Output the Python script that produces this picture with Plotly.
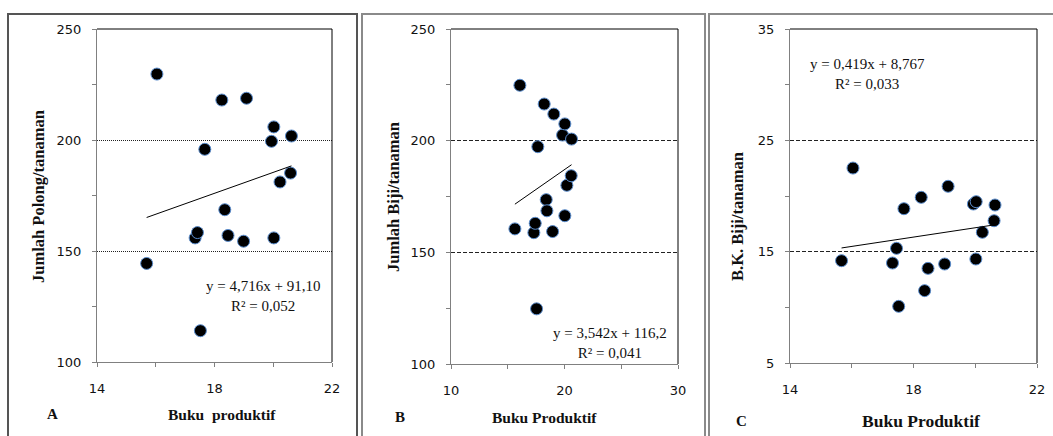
import plotly.graph_objects as go

W, H = 1053, 436

# ---- data ----
buku_A = [15.69, 16.04, 17.34, 17.42, 17.52, 17.67, 18.25, 18.35, 18.46, 18.99, 19.09, 19.94, 20.02, 20.02, 20.23, 20.59, 20.62]
polong = [144.4, 229.7, 155.9, 158.3, 114.1, 195.8, 218.0, 168.6, 157.0, 154.4, 218.8, 199.4, 205.9, 155.9, 181.1, 185.1, 201.8]

buku_B = [15.63, 16.07, 17.30, 17.42, 17.54, 17.65, 18.21, 18.39, 18.45, 18.95, 19.06, 19.83, 20.03, 20.03, 20.21, 20.59, 20.62]
biji = [160.5, 224.8, 158.8, 163.0, 124.7, 197.3, 216.4, 173.6, 168.6, 159.3, 211.9, 202.5, 207.5, 166.4, 180.0, 184.3, 200.7]

buku_C = [15.67, 16.04, 17.32, 17.45, 17.52, 17.69, 18.25, 18.36, 18.47, 19.01, 19.12, 19.94, 20.03, 20.02, 20.23, 20.61, 20.64]
bk_biji = [14.19, 22.51, 13.98, 15.30, 10.09, 18.86, 19.88, 11.50, 13.50, 13.89, 20.87, 19.28, 19.49, 14.34, 16.74, 17.78, 19.19]

slopes = [4.716, 3.542, 0.419]
intercepts = [91.10, 116.2, 8.767]
equations = ["y = 4,716x + 91,10<br>R² = 0,052",
             "y = 3,542x + 116,2<br>R² = 0,041",
             "y = 0,419x + 8,767<br>R² = 0,033"]
y_titles = ["Jumlah Polong/tanaman", "Jumlah Biji/tanaman", "B.K. Biji/tanaman"]
x_titles = ["Buku  produktif", "Buku Produktif", "Buku Produktif"]
panel_letters = ["A", "B", "C"]

# ---- layout geometry (pixels) ----
plot_px = [(97, 332, 29, 362), (451, 678, 29, 364), (790, 1037, 29, 363)]
xranges = [(14, 22), (10, 30), (14, 22)]
xdt = [(4, 2), (10, 5), (4, 2)]
yranges = [(100, 250), (100, 250), (5, 35)]
ydt = [(50, 25), (50, 25), (10, 5)]
griddash = ["1px,1px", "4px,2px", "4px,2px"]

def px(x):
    return x / W

def py(y):
    return 1 - y / H

fig = go.Figure()
xs_all = [buku_A, buku_B, buku_C]
ys_all = [polong, biji, bk_biji]
SERIF = "Liberation Serif"
SANS = "DejaVu Sans"

layout = dict(template="none", width=W, height=H, autosize=False,
              margin=dict(l=0, r=0, t=0, b=0, pad=0),
              paper_bgcolor="white", plot_bgcolor="white", showlegend=False)
shapes = []
annotations = []

for i in range(3):
    n = "" if i == 0 else str(i + 1)
    xa, ya = "x" + n, "y" + n
    xs, ys = xs_all[i], ys_all[i]
    fig.add_trace(go.Scatter(x=xs, y=ys, mode="markers", xaxis=xa, yaxis=ya,
                             marker=dict(size=12, color="black",
                                         line=dict(color="#5a8ccc", width=1))))
    x0, x1 = min(xs), max(xs)
    fig.add_trace(go.Scatter(x=[x0, x1],
                             y=[slopes[i] * x0 + intercepts[i], slopes[i] * x1 + intercepts[i]],
                             mode="lines", xaxis=xa, yaxis=ya,
                             line=dict(color="black", width=1)))
    l, r, t, b = plot_px[i]
    layout["xaxis" + n] = dict(domain=[px(l), px(r)], range=list(xranges[i]), anchor=ya,
                               automargin=False,
                               dtick=xdt[i][0], tick0=xranges[i][0], showgrid=False, zeroline=False,
                               showline=True, linecolor="#808080", linewidth=1,
                               ticks="outside", ticklen=4, tickcolor="#808080",
                               ticklabelstandoff=10,
                               minor=dict(dtick=xdt[i][1], ticks="outside", ticklen=4,
                                          tickcolor="#808080", showgrid=False),
                               tickfont=dict(family=SANS, size=13, color="#111"))
    layout["yaxis" + n] = dict(domain=[py(b), py(t)], range=list(yranges[i]), anchor=xa,
                               automargin=False,
                               dtick=ydt[i][0], tick0=yranges[i][0], showgrid=True,
                               gridcolor="#222", gridwidth=1, griddash=griddash[i],
                               zeroline=False,
                               showline=True, linecolor="#808080", linewidth=1,
                               ticks="outside", ticklen=4, tickcolor="#808080",
                               ticklabelstandoff=8,
                               minor=dict(dtick=ydt[i][1], ticks="outside", ticklen=4,
                                          tickcolor="#808080", showgrid=False),
                               tickfont=dict(family=SANS, size=13, color="#111"))
    # top and right black edges
    shapes.append(dict(type="line", xref="paper", yref="paper", x0=px(l), x1=px(r), y0=py(t), y1=py(t),
                       line=dict(color="black", width=1)))
    shapes.append(dict(type="line", xref="paper", yref="paper", x0=px(r), x1=px(r), y0=py(t), y1=py(b),
                       line=dict(color="black", width=1)))

# panel borders
borders = [(8, 357, "#555555"), (362, 705, "#8a8a8a"), (709, 1060, "#8a8a8a")]
for (bl, br, col) in borders:
    shapes.append(dict(type="rect", xref="paper", yref="paper", x0=px(bl), x1=px(br),
                       y0=py(14), y1=-0.05, line=dict(color=col, width=2), layer="below"))

# equation annotations (center positions in px)
eq_pos = [(263, 296), (610, 343), (868, 74)]
for i, (ex, ey) in enumerate(eq_pos):
    annotations.append(dict(x=px(ex), y=py(ey), xref="paper", yref="paper", text=equations[i],
                            showarrow=False, align="center", xanchor="center", yanchor="middle",
                            font=dict(family=SERIF, size=15, color="#111")))

# y axis titles
yt_pos = [(38, 197), (393, 197), (737, 217)]
for i, (tx, ty) in enumerate(yt_pos):
    annotations.append(dict(x=px(tx), y=py(ty), xref="paper", yref="paper",
                            text="<b>" + y_titles[i] + "</b>", textangle=-90, showarrow=False,
                            xanchor="center", yanchor="middle",
                            font=dict(family=SERIF, size=16.5, color="#111")))

# x axis titles and panel letters
xt_pos = [(222, 414, 15.5), (544, 417, 15.5), (921, 421, 17.5)]
letter_pos = [(52, 414), (400, 417), (741, 421)]
for i in range(3):
    tx, ty, fs = xt_pos[i]
    annotations.append(dict(x=px(tx), y=py(ty), xref="paper", yref="paper",
                            text="<b>" + x_titles[i].replace("  ", "&nbsp; ") + "</b>", showarrow=False,
                            xanchor="center", yanchor="middle",
                            font=dict(family=SERIF, size=fs, color="#111")))
    lx, ly = letter_pos[i]
    annotations.append(dict(x=px(lx), y=py(ly), xref="paper", yref="paper",
                            text="<b>" + panel_letters[i] + "</b>", showarrow=False,
                            xanchor="center", yanchor="middle",
                            font=dict(family=SERIF, size=15, color="#111")))

layout["shapes"] = shapes
layout["annotations"] = annotations
fig.update_layout(**layout)
fig.write_html("out.html", config={"displayModeBar": False},
               post_script="document.body.style.margin='0';document.body.style.overflow='hidden';")
